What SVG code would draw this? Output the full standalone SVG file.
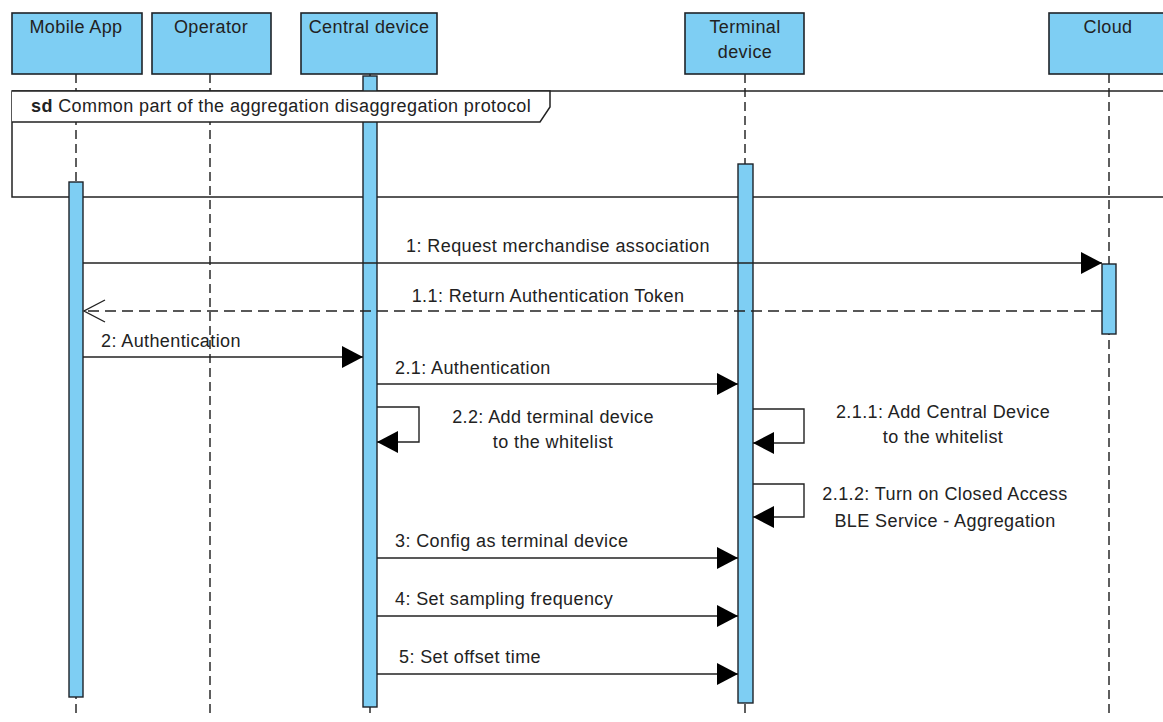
<svg xmlns="http://www.w3.org/2000/svg" width="1163" height="722" viewBox="0 0 1163 722">
<style>
.hdr{fill:#7ecef3;stroke:#1e2328;stroke-width:1.6}
.act{fill:#7ecef3;stroke:#1e2328;stroke-width:1.4}
.life{stroke:#2a2a2a;stroke-width:1.5;stroke-dasharray:9,5;fill:none}
.msg{stroke:#222;stroke-width:1.4;fill:none}
.ret{stroke:#222;stroke-width:1.4;fill:none;stroke-dasharray:11,6}
.frame{stroke:#222;stroke-width:1.5;fill:none}
text{font-family:"Liberation Sans",Arial,sans-serif;font-size:18px;fill:#222;letter-spacing:0.4px}
.c{text-anchor:middle}
</style>
<defs>
<marker id="fill" markerWidth="22" markerHeight="24" refX="21" refY="11" orient="auto" markerUnits="userSpaceOnUse">
<path d="M0,0 L21,11 L0,22 Z" fill="#000"/>
</marker>
<marker id="open" markerWidth="24" markerHeight="26" refX="22" refY="12" orient="auto" markerUnits="userSpaceOnUse">
<path d="M1,1 L22,12 L1,23" fill="none" stroke="#222" stroke-width="1.4"/>
</marker>
</defs>
<rect width="1163" height="722" fill="#fff"/>

<!-- lifelines -->
<g id="lifelines">
<line class="life" x1="76" y1="74" x2="76" y2="718"/>
<line class="life" x1="210" y1="74" x2="210" y2="718"/>
<line class="life" x1="370" y1="74" x2="370" y2="718"/>
<line class="life" x1="745" y1="74" x2="745" y2="718"/>
<line class="life" x1="1109" y1="74" x2="1109" y2="718"/>
</g>

<!-- frame outline -->
<g id="frame">
<rect x="12" y="91" width="1160" height="106" fill="none" class="frame"/>
</g>

<!-- nodes -->
<g id="mobile-app">
<rect class="hdr" x="12" y="13" width="130" height="61"/>
<text class="c" x="76" y="33">Mobile App</text>
<rect class="act" x="69" y="182" width="14" height="515"/>
</g>
<g id="operator">
<rect class="hdr" x="152" y="13" width="119" height="61"/>
<text class="c" x="211" y="33">Operator</text>
</g>
<g id="central-device">
<rect class="hdr" x="301" y="13" width="136" height="61"/>
<text class="c" x="369" y="33">Central device</text>
<rect class="act" x="363" y="76" width="14" height="631"/>
</g>
<g id="terminal-device">
<rect class="hdr" x="685" y="13" width="119" height="61"/>
<text class="c" x="745" y="33">Terminal</text>
<text class="c" x="745" y="58">device</text>
<rect class="act" x="738" y="164" width="15" height="539"/>
</g>
<g id="cloud">
<rect class="hdr" x="1049" y="13" width="120" height="61"/>
<text class="c" x="1108" y="33">Cloud</text>
<rect class="act" x="1102" y="264" width="14" height="70"/>
</g>

<!-- frame title tab -->
<g id="frame-tab">
<path d="M12,91 H550 V107 L540,122 H12 Z" fill="#fff" stroke="none"/>
<path class="frame" d="M12,91 H550 V107 L540,122 H12"/>
<text x="31" y="112"><tspan font-weight="bold">sd</tspan> Common part of the aggregation disaggregation protocol</text>
</g>

<!-- connectors -->
<g id="connectors">
<line class="msg" x1="83" y1="263" x2="1102" y2="263" marker-end="url(#fill)"/>
<text class="c" x="558" y="252">1: Request merchandise association</text>

<line class="ret" x1="1102" y1="311" x2="84" y2="311" marker-end="url(#open)"/>
<text class="c" x="548" y="302">1.1: Return Authentication Token</text>

<line class="msg" x1="83" y1="357" x2="363" y2="357" marker-end="url(#fill)"/>
<text x="101" y="347">2: Authentication</text>

<line class="msg" x1="377" y1="384" x2="738" y2="384" marker-end="url(#fill)"/>
<text x="395" y="374">2.1: Authentication</text>

<polyline class="msg" points="377,407 419,407 419,442 377,442" marker-end="url(#fill)"/>
<text class="c" x="553" y="423">2.2: Add terminal device</text>
<text class="c" x="553" y="448">to the whitelist</text>

<polyline class="msg" points="753,409 804,409 804,443 753,443" marker-end="url(#fill)"/>
<text class="c" x="943" y="418">2.1.1: Add Central Device</text>
<text class="c" x="943" y="443">to the whitelist</text>

<polyline class="msg" points="753,484 804,484 804,517 753,517" marker-end="url(#fill)"/>
<text class="c" x="945" y="500">2.1.2: Turn on Closed Access</text>
<text class="c" x="945" y="527">BLE Service - Aggregation</text>

<line class="msg" x1="377" y1="558" x2="738" y2="558" marker-end="url(#fill)"/>
<text x="395" y="547">3: Config as terminal device</text>

<line class="msg" x1="377" y1="616" x2="738" y2="616" marker-end="url(#fill)"/>
<text x="395" y="605">4: Set sampling frequency</text>

<line class="msg" x1="377" y1="674" x2="738" y2="674" marker-end="url(#fill)"/>
<text x="399" y="663">5: Set offset time</text>
</g>
</svg>
